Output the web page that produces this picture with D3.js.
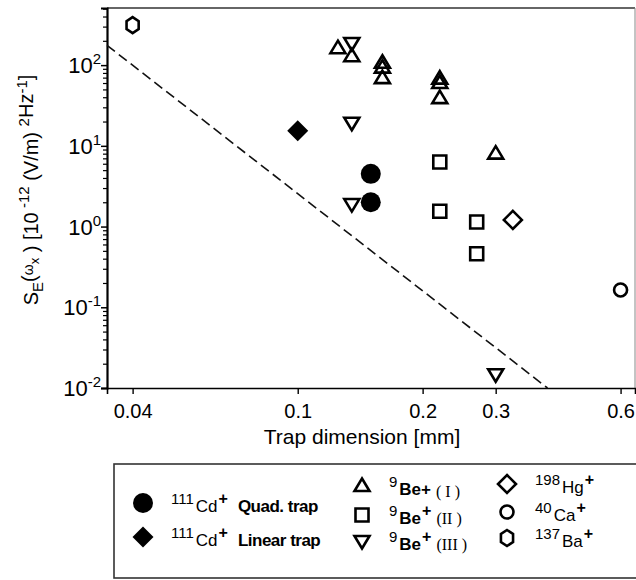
<!DOCTYPE html>
<html>
<head>
<meta charset="utf-8">
<script src="https://cdn.jsdelivr.net/npm/d3@7"></script>
<style>
  body { margin: 0; background: #fff; }
  text { font-family: "Liberation Sans", Arial, sans-serif; fill: #000; }
</style>
</head>
<body>
<script>
var Width = 636;
var Height = 580;

// data (x: trap dimension in mm, y: S_E)
var cdQuadX = [0.15, 0.15];
var cdQuadY = [4.5, 2.0];
var cdLinX = [0.1];
var cdLinY = [15.4];
var be1X = [0.125, 0.135, 0.16, 0.16, 0.16, 0.22, 0.22, 0.22, 0.3];
var be1Y = [162, 129, 107, 93, 69, 68, 60, 39, 8.0];
var be2X = [0.22, 0.22, 0.27, 0.27];
var be2Y = [6.3, 1.55, 1.14, 0.46];
var be3X = [0.135, 0.135, 0.135, 0.3];
var be3Y = [188, 19.3, 1.9, 0.0148];
var hgX = [0.33];
var hgY = [1.21];
var caX = [0.6];
var caY = [0.164];
var baX = [0.04];
var baY = [313];

// dashed guide line, ~ d^-4
var lineX = [0.0347, 0.40];
var lineY = [176, 0.01];

var xTicks = [0.04, 0.1, 0.2, 0.3, 0.6];
var xTickLabels = ["0.04", "0.1", "0.2", "0.3", "0.6"];
var yTicks = [0.01, 0.1, 1, 10, 100];
var yTickExp = ["-2", "-1", "0", "1", "2"];

var Left = 107, Right = 635, Top = 8, Bottom = 388;

function main() {
  var svg = d3.select("body").append("svg")
    .attr("width", Width)
    .attr("height", Height);

  var xScale = d3.scaleLog().domain([0.0347, 0.65]).range([Left, Right]);
  var yScale = d3.scaleLog().domain([0.01, 510]).range([Bottom, Top]);

  makeFrame(svg);
  makeAxes(svg, xScale, yScale);

  // dashed line
  var pts = lineX.map(function(x, i) { return [x, lineY[i]]; });
  svg.append("path")
    .attr("d", d3.line().x(function(d) { return xScale(d[0]); })
                        .y(function(d) { return yScale(d[1]); })(pts))
    .attr("fill", "none")
    .attr("stroke", "#111")
    .attr("stroke-width", 1.6)
    .attr("stroke-dasharray", "10,5");

  var series = [
    { x: be1X, y: be1Y, shape: "tri" },
    { x: be2X, y: be2Y, shape: "square" },
    { x: be3X, y: be3Y, shape: "dtri" },
    { x: hgX, y: hgY, shape: "diamond" },
    { x: caX, y: caY, shape: "circle" },
    { x: baX, y: baY, shape: "hex" },
    { x: cdQuadX, y: cdQuadY, shape: "fcircle" },
    { x: cdLinX, y: cdLinY, shape: "fdiamond" }
  ];
  series.forEach(function(s) {
    var pts = s.x.map(function(x, i) { return [x, s.y[i]]; });
    svg.selectAll(null)
      .data(pts)
      .enter()
      .append("path")
      .attr("transform", function(d) {
        return "translate(" + xScale(d[0]) + "," + yScale(d[1]) + ")";
      })
      .attr("d", shapePath(s.shape))
      .call(styleShape, s.shape);
  });

  makeLegend(svg);
}

function shapePath(shape) {
  if (shape == "tri") return "M0,-7.5 L7.5,5 L-7.5,5 Z";
  if (shape == "dtri") return "M0,7.5 L7.5,-5 L-7.5,-5 Z";
  if (shape == "square") return "M-6.5,-6.5 H6.5 V6.5 H-6.5 Z";
  if (shape == "diamond") return "M0,-9 L9,0 L0,9 L-9,0 Z";
  if (shape == "fdiamond") return "M0,-10.5 L10.5,0 L0,10.5 L-10.5,0 Z";
  if (shape == "circle") return d3.symbol().type(d3.symbolCircle).size(Math.PI * 6.5 * 6.5)();
  if (shape == "fcircle") return d3.symbol().type(d3.symbolCircle).size(Math.PI * 10 * 10)();
  if (shape == "hex") {
    var p = d3.range(6).map(function(i) {
      var a = Math.PI / 3 * i;
      return [7 * Math.sin(a), -8 * Math.cos(a)];
    });
    return "M" + p.join("L") + "Z";
  }
}

function styleShape(sel, shape) {
  if (shape == "fcircle" || shape == "fdiamond") {
    sel.attr("fill", "#000").attr("stroke", "none");
  } else {
    sel.attr("fill", "none").attr("stroke", "#000").attr("stroke-width", 2.6);
  }
}

function makeFrame(svg) {
  svg.append("line").attr("x1", Left).attr("x2", Right).attr("y1", Top).attr("y2", Top)
    .attr("stroke", "#333").attr("stroke-width", 1.5);
  svg.append("line").attr("x1", Right).attr("x2", Right).attr("y1", Top).attr("y2", Bottom)
    .attr("stroke", "#888").attr("stroke-width", 1);
}

function makeAxes(svg, xScale, yScale) {
  // y axis with log minor ticks
  var minor = [];
  yTicks.forEach(function(t) {
    for (var k = 2; k < 10; k++) {
      if (t * k <= yScale.domain()[1]) minor.push(t * k);
    }
  });
  var yAxis = d3.axisLeft(yScale).tickValues(yTicks).tickSize(6).tickFormat("");
  var gy = svg.append("g").attr("transform", "translate(" + Left + ",0)").call(yAxis);
  gy.select(".domain").attr("stroke", "#000").attr("stroke-width", 2.2);
  gy.selectAll(".tick line").attr("stroke-width", 1.5);
  var yMinor = d3.axisLeft(yScale).tickValues(minor).tickSize(4).tickFormat("");
  var gm = svg.append("g").attr("transform", "translate(" + Left + ",0)").call(yMinor);
  gm.select(".domain").remove();
  gm.selectAll(".tick line").attr("stroke-width", 1.2);

  var yl = svg.append("g").selectAll("text")
    .data(yTicks)
    .enter()
    .append("text")
    .attr("x", 101)
    .attr("y", function(d) { return yScale(d) + 8; })
    .attr("text-anchor", "end")
    .style("font-size", "22px");
  yl.append("tspan").text("10");
  yl.append("tspan")
    .attr("dy", -9)
    .style("font-size", "15px")
    .text(function(d, i) { return yTickExp[i]; });

  // x axis
  var xAxis = d3.axisBottom(xScale).tickValues(xTicks).tickSize(6)
    .tickFormat(function(d, i) { return xTickLabels[i]; });
  var gx = svg.append("g").attr("transform", "translate(0," + Bottom + ")").call(xAxis);
  gx.select(".domain").attr("stroke", "#000").attr("stroke-width", 1.6);
  gx.selectAll(".tick line").attr("stroke-width", 1.4);
  gx.selectAll(".tick text")
    .attr("y", 16)
    .attr("dy", "0.71em")
    .style("font-size", "20px")
    .style("font-family", "'Liberation Sans', Arial, sans-serif");

  svg.append("text")
    .attr("x", 362)
    .attr("y", 444)
    .attr("text-anchor", "middle")
    .style("font-size", "21px")
    .text("Trap dimension [mm]");

  // y label
  var t = svg.append("text")
    .attr("transform", "translate(38,190) rotate(-90)")
    .attr("text-anchor", "middle")
    .style("font-size", "20px");
  t.append("tspan").text("S");
  t.append("tspan").attr("dy", 5).style("font-size", "15px").text("E");
  t.append("tspan").attr("dy", -7).text("(");
  t.append("tspan").attr("dy", -3).style("font-size", "14px").text("ω");
  t.append("tspan").attr("dy", 6).style("font-size", "13px").text("x");
  t.append("tspan").attr("dy", -1).text(" )  [10");
  t.append("tspan").attr("dy", -9).style("font-size", "15px").text(" -12");
  t.append("tspan").attr("dy", 9).text("  (V/m) ");
  t.append("tspan").attr("dy", -9).style("font-size", "15px").text("2");
  t.append("tspan").attr("dy", 4).text("Hz");
  t.append("tspan").attr("dy", -6).style("font-size", "15px").text("-1");
  t.append("tspan").attr("dy", 6).text("]");
}

function makeLegend(svg) {
  svg.append("rect")
    .attr("x", 114).attr("y", 464)
    .attr("width", 530).attr("height", 114)
    .attr("fill", "none")
    .attr("stroke", "#333")
    .attr("stroke-width", 1.6);

  var items = [
    { x: 143, y: 503, shape: "fcircle", sup: "111", base: "Cd", sup2: "+", rest: "Quad. trap" },
    { x: 143, y: 537, shape: "fdiamond", sup: "111", base: "Cd", sup2: "+", rest: "Linear trap" },
    { x: 362, y: 486, shape: "tri", sup: "9", base: "Be+", sup2: "", rest: "( I )" },
    { x: 362, y: 515, shape: "square", sup: "9", base: "Be", sup2: "+", rest: "(II )" },
    { x: 362, y: 541, shape: "dtri", sup: "9", base: "Be", sup2: "+", rest: "(III )" },
    { x: 507, y: 484, shape: "diamond", sup: "198", base: "Hg", sup2: "+", rest: "" },
    { x: 507, y: 512, shape: "circle", sup: "40", base: "Ca", sup2: "+", rest: "" },
    { x: 507, y: 538, shape: "hex", sup: "137", base: "Ba", sup2: "+", rest: "" }
  ];

  items.forEach(function(it) {
    svg.append("path")
      .attr("transform", "translate(" + it.x + "," + it.y + ")")
      .attr("d", shapePath(it.shape))
      .call(styleShape, it.shape);

    var roman = it.shape == "tri" || it.shape == "square" || it.shape == "dtri";
    var tx = svg.append("text")
      .attr("x", it.x + (roman ? 27 : 28))
      .attr("y", it.y + 1)
      .style("font-size", "15px");
    tx.append("tspan").text(it.sup);
    tx.append("tspan").attr("dx", 2).attr("dy", 8).style("font-size", "17px")
      .style("font-weight", roman ? "bold" : null).text(it.base);
    if (it.sup2) tx.append("tspan").attr("dx", 1).attr("dy", -8).style("font-size", "16px").style("font-weight", "bold").text(it.sup2);
    if (it.rest) {
      tx.append("tspan")
        .attr("dx", roman ? 5 : 10)
        .attr("dy", it.sup2 ? 8 : 2)
        .style("font-size", roman ? "16px" : "17px")
        .style("font-family", roman ? "'Liberation Serif', serif" : null)
        .style("font-weight", roman ? null : "bold")
        .style("letter-spacing", roman ? null : "-0.5px")
        .text(it.rest);
    }
  });
}

main();
</script>
</body>
</html>
